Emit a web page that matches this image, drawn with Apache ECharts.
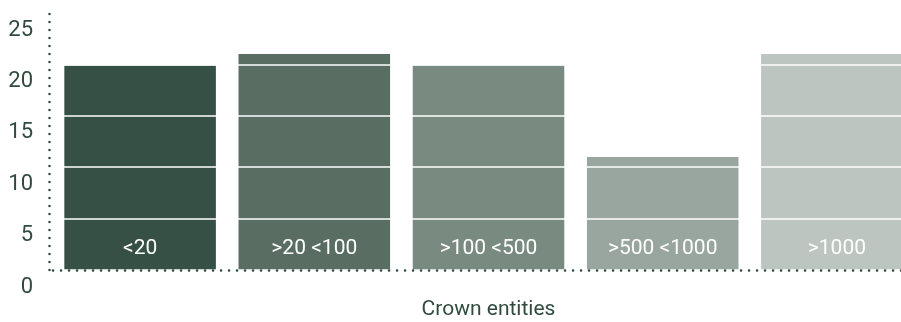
<!DOCTYPE html>
<html lang="en">
<head>
    <meta charset="UTF-8">
    <title>Crown entities</title>
    <script src="https://cdn.jsdelivr.net/npm/echarts@6/dist/echarts.min.js"></script>
    <style>
        html, body { margin: 0; padding: 0; background: #fff; }
    </style>
</head>
<body>
<div id="main" style="height:322px;width:901px"></div>

<script type="text/javascript">
    // data
    var categories = ['<20', '>20 <100', '>100 <500', '>500 <1000', '>1000'];
    var counts = [19.9, 21, 19.9, 11, 21];
    var yTicks = [0, 5, 10, 15, 20, 25];

    var barColors = ['#365045', '#5a6d63', '#798a81', '#99a59f', '#bcc5c0'];
    var ink = '#2f4a3e';
    var font = 'Roboto, sans-serif';

    var myChart = echarts.init(document.getElementById('main'));
    myChart.setOption({
        animation: false,
        grid: { left: 53, right: -23, top: 13, bottom: 52, outerBoundsMode: 'none', containLabel: false },
        xAxis: {
            type: 'category',
            data: categories,
            z: 5,
            name: 'Crown entities',
            nameLocation: 'middle',
            nameGap: 29,
            nameTextStyle: { color: ink, fontSize: 21, fontFamily: font },
            axisLine: {
                lineStyle: { color: ink, width: 2.5, type: [0.1, 7.9], cap: 'round' }
            },
            axisTick: { show: false },
            axisLabel: { show: false }
        },
        yAxis: {
            type: 'value',
            min: yTicks[0],
            max: yTicks[yTicks.length - 1],
            interval: 5,
            offset: 4,
            z: 4,
            axisLine: {
                show: true,
                lineStyle: { color: ink, width: 2.5, type: [0.1, 7.9], cap: 'round' }
            },
            axisTick: { show: false },
            splitLine: { show: true, lineStyle: { color: '#ffffff', width: 1.5 } },
            axisLabel: {
                color: ink,
                fontSize: 22,
                fontFamily: font,
                margin: 16,
                verticalAlign: 'top',
                padding: [6, 0, 0, 0]
            }
        },
        series: [{
            type: 'bar',
            barCategoryGap: '13%',
            data: counts.map(function (v, i) {
                return { value: v, itemStyle: { color: barColors[i] } };
            }),
            label: {
                show: true,
                position: 'insideBottom',
                distance: 11,
                formatter: '{b}',
                color: '#ffffff',
                fontSize: 21,
                fontFamily: font
            }
        }]
    });
</script>
</body>
</html>
